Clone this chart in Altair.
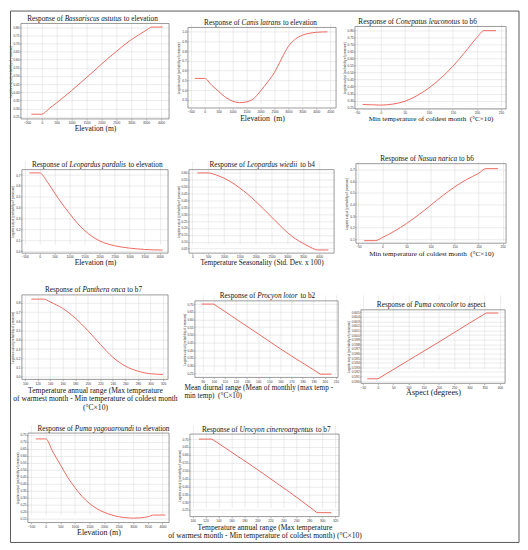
import altair as alt
import pandas as pd

# ---------------- data ----------------
x1 = [-350, 0, 250, 500, 750, 1000, 1250, 1500, 1750, 2000, 2250, 2500, 2750, 3000, 3250, 3500, 3700, 4050]
y1 = [0.265, 0.265, 0.30, 0.335, 0.372, 0.41, 0.45, 0.49, 0.53, 0.572, 0.612, 0.65, 0.688, 0.722, 0.752, 0.78, 0.80, 0.80]

x2 = [-350, 0, 250, 500, 750, 1000, 1250, 1500, 1750, 2000, 2250, 2500, 2750, 3000, 3250, 3500, 3750, 4000, 4400]
y2 = [0.52, 0.52, 0.45, 0.385, 0.325, 0.285, 0.27, 0.278, 0.31, 0.39, 0.48, 0.58, 0.72, 0.85, 0.925, 0.965, 0.985, 0.995, 1.0]

x3 = [-38, -20, 0, 25, 50, 75, 100, 125, 150, 175, 200, 215, 240]
y3 = [0.272, 0.27, 0.268, 0.275, 0.295, 0.335, 0.39, 0.46, 0.545, 0.645, 0.75, 0.80, 0.80]

x4 = [-340, 0, 250, 500, 750, 1000, 1250, 1500, 1750, 2000, 2500, 3000, 3500, 4100]
y4 = [0.72, 0.72, 0.64, 0.535, 0.435, 0.345, 0.26, 0.19, 0.135, 0.095, 0.05, 0.028, 0.016, 0.01]

x5 = [160, 500, 750, 1000, 1250, 1500, 1750, 2000, 2250, 2500, 2750, 3000, 3250, 3500, 3750, 3950, 4300]
y5 = [0.60, 0.60, 0.585, 0.562, 0.53, 0.49, 0.445, 0.393, 0.338, 0.28, 0.222, 0.168, 0.122, 0.088, 0.058, 0.04, 0.04]

x6 = [-38, -15, 0, 25, 50, 75, 100, 125, 150, 175, 200, 215, 240]
y6 = [0.088, 0.088, 0.115, 0.17, 0.235, 0.31, 0.392, 0.475, 0.55, 0.615, 0.668, 0.708, 0.708]

x7 = [110, 130, 140, 160, 180, 200, 220, 240, 260, 280, 300, 320]
y7 = [0.84, 0.84, 0.81, 0.74, 0.635, 0.50, 0.35, 0.21, 0.115, 0.06, 0.032, 0.025]

x8 = [89, 100, 110, 120, 130, 140, 150, 160, 170, 180, 190, 196, 206]
y8 = [0.70, 0.70, 0.652, 0.603, 0.555, 0.507, 0.458, 0.41, 0.363, 0.318, 0.273, 0.245, 0.245]

x9 = [-35, 0, 100, 200, 300, 355, 395]
y9 = [0.5905, 0.5905, 0.5945, 0.5985, 0.6026, 0.6048, 0.6048]

x10 = [-340, 0, 250, 500, 750, 1000, 1250, 1500, 1750, 2000, 2250, 2500, 2750, 3000, 3250, 3500, 3700, 4100]
y10 = [0.72, 0.72, 0.625, 0.535, 0.445, 0.37, 0.305, 0.255, 0.218, 0.192, 0.173, 0.16, 0.153, 0.15, 0.152, 0.16, 0.172, 0.172]

x11 = [110, 130, 150, 170, 190, 210, 230, 250, 270, 292, 314]
y11 = [0.70, 0.70, 0.645, 0.59, 0.535, 0.478, 0.42, 0.362, 0.302, 0.233, 0.233]

# tick labels
XT_ELEV = [-500, 0, 500, 1000, 1500, 2000, 2500, 3000, 3500, 4000]
XT_ELEV2 = [-500, 0, 500, 1000, 1500, 2000, 2500, 3000, 3500, 4000, 4500]
XT_B6 = [-50, 0, 50, 100, 150, 200, 250]
XT_B4 = [0, 500, 1000, 1500, 2000, 2500, 3000, 3500, 4000]
XT_B7 = [100, 120, 140, 160, 180, 200, 220, 240, 260, 280, 300, 320]
XT_B2 = [90, 100, 110, 120, 130, 140, 150, 160, 170, 180, 190, 200, 210]
XT_ASP = [-50, 0, 50, 100, 150, 200, 250, 300, 350, 400]

YT_25_80 = [0.25, 0.30, 0.35, 0.40, 0.45, 0.50, 0.55, 0.60, 0.65, 0.70, 0.75, 0.80]
YT_P2 = [0.3, 0.4, 0.5, 0.6, 0.7, 0.8, 0.9, 1.0]
YT_P4 = [0.0, 0.1, 0.2, 0.3, 0.4, 0.5, 0.6, 0.7]
YT_P5 = [0.05, 0.10, 0.15, 0.20, 0.25, 0.30, 0.35, 0.40, 0.45, 0.50, 0.55, 0.60]
YT_P6 = [0.1, 0.2, 0.3, 0.4, 0.5, 0.6, 0.7]
YT_P7 = [0.0, 0.1, 0.2, 0.3, 0.4, 0.5, 0.6, 0.7, 0.8]
YT_25_70 = [0.25, 0.30, 0.35, 0.40, 0.45, 0.50, 0.55, 0.60, 0.65, 0.70]
YT_P9 = [0.590, 0.591, 0.592, 0.593, 0.594, 0.595, 0.596, 0.597, 0.598, 0.599,
         0.600, 0.601, 0.602, 0.603, 0.604, 0.605]
YT_P10 = [0.15, 0.20, 0.25, 0.30, 0.35, 0.40, 0.45, 0.50, 0.55, 0.60, 0.65, 0.70, 0.75]

species = ["Bassariscus astutus", "Canis latrans", "Conepatus leuconotus", "Leopardus pardalis",
           "Leopardus wiedii", "Nasua narica", "Panthera onca", "Procyon lotor",
           "Puma concolor", "Puma yagouaroundi", "Urocyon cinereoargentus"]
suffixes = ["to elevation", "to elevation", "to b6", "to elevation", "to b4", "to b6",
            "to b7", "to b2", "to aspect", "to elevation", "to b7"]

TEMP_RANGE = ["Temperature annual range (Max temperature",
              "of warmest month - Min temperature of coldest month", "(°C×10)"]
TEMP_RANGE2 = ["Temperature annual range (Max temperature",
               "of warmest month - Min temperature of coldest month) (°C×10)"]
DIURNAL = ["Mean diurnal range (Mean of monthly (max temp -", "min temp)\u00a0 (°C×10)"]

# ---------------- styling helpers ----------------
SERIF = "Liberation Serif"
SANS = "Liberation Sans"
RED = "#ec5a4f"
INK = "#151515"
YTITLE = "Logistic output (probability of presence)"

ROMAN = {" ": 250, "R": 667, "a": 444, "b": 500, "c": 444, "d": 500, "e": 444, "f": 333,
         "g": 500, "h": 500, "i": 278, "l": 278, "m": 778, "n": 500, "o": 500, "p": 500,
         "r": 333, "s": 389, "t": 278, "u": 500, "v": 500}
ITALIC = {" ": 250, "B": 611, "C": 667, "L": 556, "N": 667, "P": 611, "U": 722, "a": 500,
          "c": 444, "d": 500, "e": 444, "g": 500, "h": 500, "i": 278, "l": 278, "n": 500,
          "o": 500, "p": 500, "r": 389, "s": 389, "t": 278, "u": 500, "w": 667, "y": 444}


def tw(s, table, fs):
    return sum(table.get(c, 500) for c in s) * fs / 1000.0


ONE = pd.DataFrame({"k": [0]})
TFS = 7.3

# panel layout: box = (left offset, top offset, plot width, plot height) inside its grid cell
panels_spec = [
    dict(x=x1, y=y1, xdom=[-700, 4270], xt=XT_ELEV, ydom=[0.236, 0.822], yt=YT_25_80, yfmt=".2f",
         box=(0, 0, 149, 96), tcx=72, xtitle="Elevation (m)", xfs=7.6, xpad=1.0, border=True),
    dict(x=x2, y=y2, xdom=[-600, 4710], xt=XT_ELEV2, ydom=[0.215, 1.045], yt=YT_P2, yfmt=".1f",
         box=(3, 4, 149, 81), tcx=76, xtitle="Elevation\u00a0 (m)", xfs=7.8, xpad=1.5),
    dict(x=x3, y=y3, xdom=[-54, 261], xt=XT_B6, ydom=[0.24, 0.83], yt=YT_25_80, yfmt=".2f",
         box=(0, 3, 152, 83), tcx=63, xtitle="Min temperature of coldest month\u00a0 (°C×10)", xfs=7.2, xpad=0.7),
    dict(x=x4, y=y4, xdom=[-590, 4280], xt=XT_ELEV, ydom=[-0.018, 0.75], yt=YT_P4, yfmt=".1f",
         box=(1, 9, 147, 84), tcx=76.8, xtitle="Elevation (m)", xfs=7.6, xpad=0.4),
    dict(x=x5, y=y5, xdom=[-110, 4480], xt=XT_B4, ydom=[0.017, 0.624], yt=YT_P5, yfmt=".2f",
         box=(4, 9, 146, 84), tcx=77.7, xtitle="Temperature Seasonality (Std. Dev. x 100)", xfs=7.3, xpad=0.4),
    dict(x=x6, y=y6, xdom=[-55, 257], xt=XT_B6, ydom=[0.066, 0.751], yt=YT_P6, yfmt=".1f",
         box=(1, 3, 151, 80), tcx=72.5, xtitle="Min temperature of coldest month\u00a0 (°C×10)", xfs=7.2, xpad=1.4),
    dict(x=x7, y=y7, xdom=[95, 328], xt=XT_B7, ydom=[-0.029, 0.886], yt=YT_P7, yfmt=".1f",
         box=(1, 0, 147, 85), tcx=73, xtitle=TEMP_RANGE, xfs=7.6, xpad=2.0),
    dict(x=x8, y=y8, xdom=[83, 212], xt=XT_B2, ydom=[0.224, 0.721], yt=YT_25_70, yfmt=".2f",
         box=(10, 6, 144, 77), tcx=83, xtitle=DIURNAL, xfs=7.3, xpad=1.0, interp="linear",
         xextra=dict(titleAnchor="start", titleAlign="left", titleX=-1)),
    dict(x=x9, y=y9, xdom=[-56, 417], xt=XT_ASP, ydom=[0.5895, 0.6055], yt=YT_P9, yfmt=".3f",
         box=(6, 15, 145, 74), tcx=76.7, xtitle="Aspect (degrees)", xfs=8.2, xpad=0.3, interp="linear"),
    dict(x=x10, y=y10, xdom=[-610, 4225], xt=XT_ELEV, ydom=[0.118, 0.762], yt=YT_P10, yfmt=".2f",
         box=(7, 8, 142, 90), tcx=83, xtitle="Elevation (m)", xfs=8.0, xpad=1.0),
    dict(x=x11, y=y11, xdom=[96, 326], xt=XT_B7, ydom=[0.208, 0.732], yt=YT_25_70, yfmt=".2f",
         box=(5, 9, 150, 83), tcx=81.8, xtitle=TEMP_RANGE2, xfs=7.6, xpad=1.6, interp="linear"),
]


def make_panel(i, p):
    lo, to, w, h = p["box"]
    df = pd.DataFrame({"x": p["x"], "y": p["y"]})
    xaxis = alt.Axis(values=p["xt"], format="d", title=p["xtitle"], titleFontSize=p["xfs"],
                     titlePadding=p["xpad"], **p.get("xextra", {}))
    ykw = dict(values=p["yt"], format=p["yfmt"], title=YTITLE)
    if lo:
        ykw["offset"] = -lo
    yaxis = alt.Axis(**ykw)
    line = alt.Chart(df).mark_line(color=RED, strokeWidth=0.9,
                                   interpolate=p.get("interp", "monotone")).encode(
        x=alt.X("x:Q", scale=alt.Scale(domain=p["xdom"], range=[lo, lo + w], nice=False, zero=False),
                axis=xaxis),
        y=alt.Y("y:Q", scale=alt.Scale(domain=p["ydom"], range=[to + h, to], nice=False, zero=False),
                axis=yaxis),
    )
    frame = alt.Chart(ONE).mark_rect(filled=False, stroke="#707070", strokeWidth=0.7).encode(
        x=alt.value(lo), x2=alt.value(lo + w), y=alt.value(to), y2=alt.value(to + h))

    # title: "Response of <italic species> to ..."
    pre = "Response of"
    name = species[i]
    wp = tw(pre + " ", ROMAN, TFS)
    ws = tw(name, ITALIC, TFS) + (0.9 if name[-1] in "ir" else 0.2)
    wsp = tw(" ", ROMAN, TFS)
    wsuf = tw(suffixes[i], ROMAN, TFS)
    x0 = p["tcx"] - (wp + ws + wsp + wsuf) / 2.0
    by = to - 2.5
    base = dict(font=SERIF, fontSize=TFS, baseline="alphabetic", align="left", color=INK)
    t1 = alt.Chart(ONE).mark_text(text=pre, **base).encode(x=alt.value(x0), y=alt.value(by))
    t2 = alt.Chart(ONE).mark_text(text=name, fontStyle="italic", **base).encode(
        x=alt.value(x0 + wp), y=alt.value(by))
    t3 = alt.Chart(ONE).mark_text(text=suffixes[i], **base).encode(
        x=alt.value(x0 + wp + ws + wsp), y=alt.value(by))
    layers = [frame, line, t1, t2, t3]
    if p.get("border"):
        border = alt.Chart(ONE).mark_rect(filled=False, stroke="#5a5a5a", strokeWidth=1).encode(
            x=alt.value(-10.5), x2=alt.value(501), y=alt.value(-12.5), y2=alt.value(522))
        layers.append(border)
    return alt.layer(*layers).properties(width=lo + w, height=to + h)


panels = [make_panel(i, p) for i, p in enumerate(panels_spec)]

chart = alt.ConcatChart(
    concat=panels, columns=3, bounds="flush", align="each",
    spacing={"row": 42, "column": 16},
).properties(
    padding=0, background="white"
).configure_view(
    stroke="transparent"
).configure_axis(
    labelFont=SANS, labelFontSize=3.2, labelColor="#333333", labelPadding=0.6,
    labelOverlap=False, labelFlush=False, labelBound=False,
    tickSize=1.2, tickWidth=0.5, tickColor="#666666", domain=False,
    grid=True, gridColor="#d9d9d9", gridWidth=0.5,
).configure_axisY(
    titleFont=SANS, titleFontSize=3, titleFontWeight="normal", titleColor="#333333", titlePadding=0.8,
).configure_axisX(
    titleFont=SERIF, titleFontWeight="normal", titleColor=INK, titleLineHeight=8.5,
)

chart.save("out.html", embed_options={"renderer": "svg", "actions": False})
